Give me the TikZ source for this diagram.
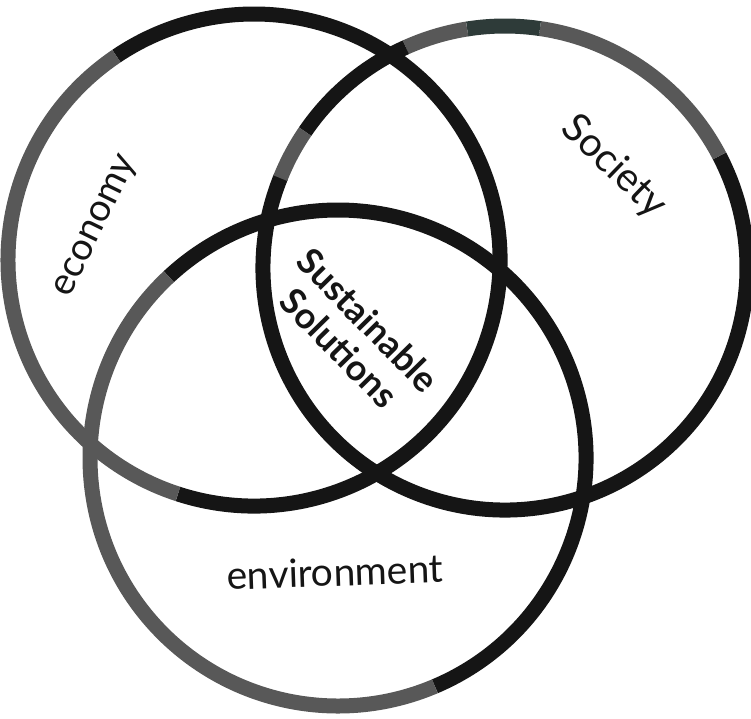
\documentclass[tikz,border=0pt]{standalone}
\usepackage{fontspec}
\setmainfont{Lato}
\definecolor{ink}{HTML}{151515}
\definecolor{pencil}{HTML}{585858}
\definecolor{slate}{HTML}{2E3B39}
\begin{document}
\begin{tikzpicture}[x=1pt,y=1pt,
  ring/.style={line width=15pt, line cap=butt},
  label/.style={inner sep=0pt, font=\fontsize{38}{40}\selectfont, text=ink},
  core/.style={inner sep=0pt, align=center, font=\bfseries\fontsize{36}{40}\selectfont, text=ink}]
\useasboundingbox (0,0) rectangle (751,-718);
\coordinate (eco) at (254,-260);
\coordinate (soc) at (505,-268);
\coordinate (env) at (338,-458);
% economy circle
\draw[ring,ink] ([shift={(-108:246)}]eco) arc[start angle=-108,end angle=124,radius=246];
\draw[ring,pencil] ([shift={(124:246)}]eco) arc[start angle=124,end angle=252,radius=246];
% society circle
\draw[ring,ink] ([shift={(-202:242)}]soc) arc[start angle=-202,end angle=27.6,radius=242];
\draw[ring,pencil] ([shift={(27.6:242)}]soc) arc[start angle=27.6,end angle=81.7,radius=242];
\draw[ring,slate] ([shift={(81.7:242)}]soc) arc[start angle=81.7,end angle=99,radius=242];
\draw[ring,pencil] ([shift={(99:242)}]soc) arc[start angle=99,end angle=114.2,radius=242];
\draw[ring,ink] ([shift={(114.2:242)}]soc) arc[start angle=114.2,end angle=145.7,radius=242];
\draw[ring,pencil] ([shift={(145.7:242)}]soc) arc[start angle=145.7,end angle=158.2,radius=242];
% environment circle
\draw[ring,ink] ([shift={(-67:248)}]env) arc[start angle=-67,end angle=133,radius=248];
\draw[ring,pencil] ([shift={(133:248)}]env) arc[start angle=133,end angle=293,radius=248];
% labels
\node[label, rotate=64] (teco) at (97,-227) {economy};
\node[label, rotate=-44, font=\fontsize{40}{42}\selectfont] (tsoc) at (614,-167) {Society};
\node[label, rotate=2, font=\fontsize{39}{41}\selectfont] (tenv) at (335,-572) {environment};
\node[core, rotate=-45.5] (tsus) at (354,-334) {Sustainable\\Solutions};
\end{tikzpicture}
\end{document}
